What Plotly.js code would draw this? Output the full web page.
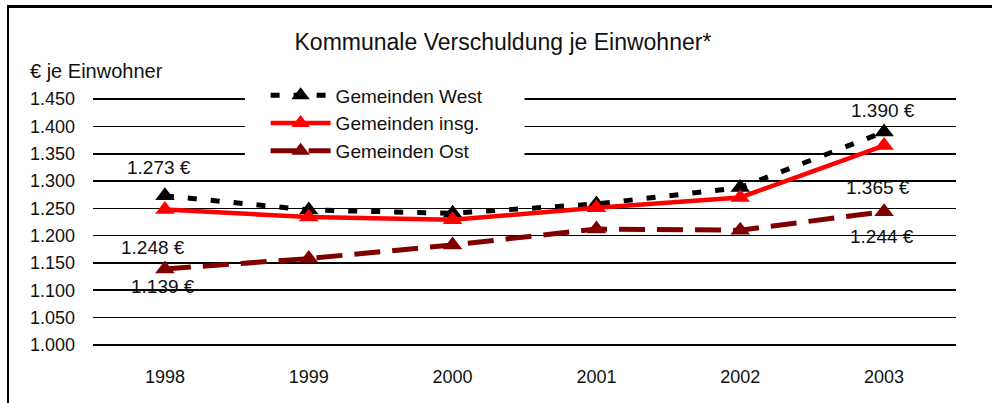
<!DOCTYPE html>
<html>
<head>
<meta charset="utf-8">
<script src="https://cdn.plot.ly/plotly-3.0.1.min.js"></script>
<style>
  html, body { margin: 0; padding: 0; background: #fff; }
  #wrap { position: relative; width: 992px; height: 403px; overflow: hidden; }
  #chart { position: absolute; left: 0; top: 0; width: 992px; height: 403px; }
  #frame { position: absolute; left: 7px; top: 5px; width: 1000px; height: 420px;
           border-top: 3px solid #000; border-left: 2px solid #000; pointer-events: none; }
</style>
</head>
<body>
<div id="wrap">
  <div id="chart"></div>
  <div id="frame"></div>
</div>
<script>
const years = ['1998', '1999', '2000', '2001', '2002', '2003'];
const west  = [1273, 1247, 1241, 1258, 1288, 1390];
const insg  = [1248, 1234, 1229, 1251, 1270, 1365];
const ost   = [1139, 1158, 1183, 1212, 1210, 1244];
const seriesNames = ['Gemeinden West', 'Gemeinden insg.', 'Gemeinden Ost'];
const yTicks = [1000, 1050, 1100, 1150, 1200, 1250, 1300, 1350, 1400, 1450];
const chartTitle = 'Kommunale Verschuldung je Einwohner*';
const yTitle = '€ je Einwohner';

const FONT = 'Liberation Sans, Arial, sans-serif';
const TXT = '#111111';

function eur(v) { return v.toLocaleString('de-DE') + ' €'; }

const traces = [
  { x: years, y: west, name: seriesNames[0], type: 'scatter', mode: 'lines+markers',
    line: { color: '#000000', width: 5, dash: '9px,14px' },
    marker: { symbol: 'triangle-up', size: 17, color: '#000000' }, cliponaxis: false },
  { x: years, y: insg, name: seriesNames[1], type: 'scatter', mode: 'lines+markers',
    line: { color: '#ff0000', width: 4.5 },
    marker: { symbol: 'triangle-up', size: 17, color: '#ff0000' }, cliponaxis: false },
  { x: years, y: ost, name: seriesNames[2], type: 'scatter', mode: 'lines+markers',
    line: { color: '#800000', width: 5, dash: '26px,12px' },
    marker: { symbol: 'triangle-up', size: 17, color: '#800000' }, cliponaxis: false }
];

const first = 0, last = years.length - 1;
const labelFont = { family: FONT, size: 19, color: TXT };
function lab(i, v, xs, ys) {
  return { x: i, y: v, xref: 'x', yref: 'y', text: eur(v), showarrow: false,
           xshift: xs, yshift: ys, font: labelFont };
}
const annotations = [
  lab(first, west[first], -6, 28),
  lab(first, insg[first], -12, -38),
  lab(first, ost[first], -2, -18),
  lab(last, west[last], -1, 21),
  lab(last, insg[last], -6, -42),
  lab(last, ost[last], -2, -25),
  { x: -0.075, y: 1.105, xref: 'paper', yref: 'paper', xanchor: 'left', yanchor: 'middle',
    text: yTitle, showarrow: false, font: { family: FONT, size: 20, color: TXT } }
];

const layout = {
  width: 992, height: 403,
  margin: { l: 93, r: 36, t: 97.3, b: 55.8 },
  paper_bgcolor: '#ffffff', plot_bgcolor: '#ffffff',
  separators: ',.',
  showlegend: true,
  title: { text: chartTitle, x: 0.507, xref: 'container', xanchor: 'center',
           y: 0.896, yref: 'container', yanchor: 'middle',
           font: { family: FONT, size: 23, color: TXT } },
  xaxis: { type: 'category', range: [-0.5, 5.5], showgrid: false, showline: false,
           zeroline: false, ticks: '', ticklabelstandoff: 17, fixedrange: true,
           tickfont: { family: FONT, size: 18, color: TXT } },
  yaxis: { range: [996, 1454], tickvals: yTicks, tickformat: ',d', showgrid: true,
           gridcolor: '#000000', gridwidth: 1.6, zeroline: false, showline: false,
           ticks: '', ticklabelstandoff: 17, fixedrange: true,
           tickfont: { family: FONT, size: 18, color: TXT } },
  legend: { x: 0.2, y: 1.082, xanchor: 'left', yanchor: 'top', bgcolor: '#ffffff',
            borderwidth: 0, itemwidth: 60, tracegroupgap: 0,
            font: { family: FONT, size: 19, color: TXT } },
  shapes: [
    { type: 'rect', xref: 'paper', yref: 'paper', x0: 0.176, x1: 0.5, y0: 0.74, y1: 1.06,
      fillcolor: '#ffffff', line: { width: 0 }, layer: 'above' }
  ],
  annotations: annotations
};

Plotly.newPlot('chart', traces, layout, { staticPlot: true, displayModeBar: false });
</script>
</body>
</html>
